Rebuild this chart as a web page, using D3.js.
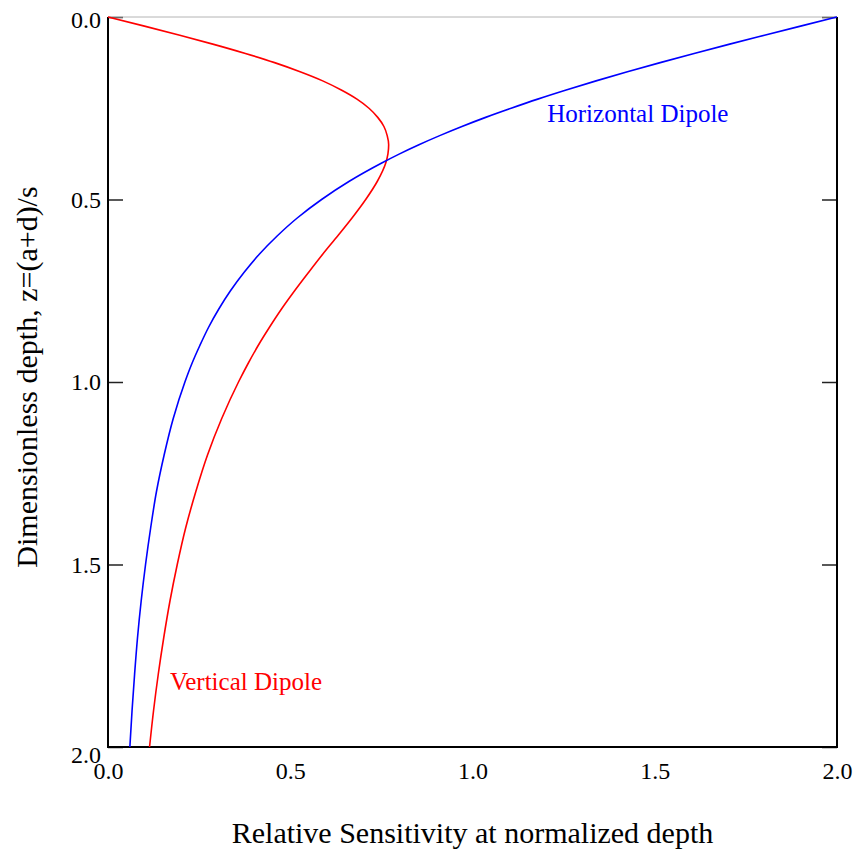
<!DOCTYPE html>
<html>
<head>
<meta charset="utf-8">
<script src="https://cdn.jsdelivr.net/npm/d3@7"></script>
<style>
	body { margin: 0; background: #fff; }
	svg text { font-family: "Liberation Serif", "Times New Roman", serif; }
</style>
</head>
<body>
<div id="chart"></div>
<script>
// DATA ------------------------------------------------------------
// normalized depth z=(a+d)/s
var depths = [0, 0.025, 0.05, 0.075, 0.1, 0.125, 0.15, 0.175, 0.2, 0.225, 0.25, 0.275, 0.3, 0.325, 0.35, 0.375, 0.4,
	0.45, 0.5, 0.55, 0.6, 0.65, 0.7, 0.75, 0.8, 0.85, 0.9, 0.95, 1.0,
	1.1, 1.2, 1.3, 1.4, 1.5, 1.6, 1.7, 1.8, 1.9, 2.0];

// relative sensitivity, vertical dipole (red)
var verticalDipole = [0, 0.100, 0.197, 0.290, 0.377, 0.457, 0.527, 0.589, 0.640, 0.683, 0.716, 0.740, 0.757, 0.766, 0.770, 0.768, 0.762,
	0.739, 0.707, 0.670, 0.630, 0.589, 0.550, 0.512, 0.476, 0.443, 0.412, 0.384, 0.358,
	0.312, 0.273, 0.241, 0.213, 0.190, 0.170, 0.153, 0.138, 0.125, 0.114];

// relative sensitivity, horizontal dipole (blue)
var horizontalDipole = [2.0, 1.900, 1.801, 1.703, 1.608, 1.515, 1.425, 1.339, 1.257, 1.179, 1.106, 1.036, 0.971, 0.910, 0.853, 0.800, 0.751,
	0.662, 0.586, 0.520, 0.464, 0.415, 0.373, 0.336, 0.304, 0.276, 0.252, 0.230, 0.211,
	0.179, 0.154, 0.133, 0.117, 0.103, 0.091, 0.081, 0.073, 0.066, 0.060];

var xTicks = [0, 0.5, 1.0, 1.5, 2.0];
var yTicks = [0, 0.5, 1.0, 1.5, 2.0];

// SVG SIZE ------------------------------------------------------------
var svgWidth = 862,
	svgHeight = 850;
var margin = {top: 17, right: 25, bottom: 103, left: 108},
	width = svgWidth - margin.left - margin.right,
	height = svgHeight - margin.top - margin.bottom;

var colors = {
	'vertical': '#ff0000',
	'horizontal': '#0000ff',
	'frame': '#000000',
	'top': '#b4b4b4'
};

var svg = d3.select("#chart")
	.append("svg")
	.attr("width", svgWidth)
	.attr("height", svgHeight);

var g = svg.append("g")
	.attr("transform", "translate(" + margin.left + "," + margin.top + ")");

var x = d3.scaleLinear().domain([0, 2]).range([0, width]);
var y = d3.scaleLinear().domain([0, 2]).range([0, height]);

// AXES ------------------------------------------------------------
var fmt = d3.format(".1f");

var leftAxis = g.append("g")
	.call(d3.axisLeft(y).tickValues(yTicks).tickSize(-15).tickPadding(7).tickFormat(fmt));
var rightAxis = g.append("g")
	.attr("transform", "translate(" + width + ",0)")
	.call(d3.axisRight(y).tickValues(yTicks).tickSize(-15).tickFormat(""));
var bottomAxis = g.append("g")
	.attr("transform", "translate(0," + height + ")")
	.call(d3.axisBottom(x).tickValues(xTicks).tickSize(0).tickPadding(15).tickFormat(fmt));

[leftAxis, rightAxis, bottomAxis].forEach(function(a) {
	a.select(".domain").remove();
	a.selectAll("line").attr("stroke", "#222").attr("stroke-width", 1.5);
	a.selectAll("text")
		.attr("fill", "#000")
		.style("font-size", "24px");
});

// nudge the end labels of the depth axis like the original
leftAxis.selectAll("text")
	.attr("dy", function(d) { return d === 0 ? "0.45em" : (d === 2 ? "0.65em" : "0.33em"); });

// FRAME ------------------------------------------------------------
g.append("line")
	.attr("x1", 0).attr("x2", width).attr("y1", 0).attr("y2", 0)
	.attr("stroke", colors.top).attr("stroke-width", 1);
g.append("path")
	.attr("d", "M0,0V" + height + "H" + width + "V0")
	.attr("fill", "none")
	.attr("stroke", colors.frame)
	.attr("stroke-width", 2);

// CURVES ------------------------------------------------------------
function curve(values) {
	return d3.line()
		.x(function(d) { return x(d); })
		.y(function(d, i) { return y(depths[i]); })
		.curve(d3.curveMonotoneY)(values);
}

g.append("path")
	.attr("d", curve(verticalDipole))
	.attr("fill", "none")
	.attr("stroke", colors.vertical)
	.attr("stroke-width", 1.6);

g.append("path")
	.attr("d", curve(horizontalDipole))
	.attr("fill", "none")
	.attr("stroke", colors.horizontal)
	.attr("stroke-width", 1.6);

// LABELS ------------------------------------------------------------
g.append("text")
	.attr("x", x(1.205))
	.attr("y", y(0.288))
	.attr("fill", colors.horizontal)
	.style("font-size", "25px")
	.text("Horizontal Dipole");

g.append("text")
	.attr("x", x(0.17))
	.attr("y", y(1.845))
	.attr("fill", colors.vertical)
	.style("font-size", "25px")
	.text("Vertical Dipole");

// axis titles
svg.append("text")
	.attr("x", margin.left + width / 2)
	.attr("y", 843)
	.attr("text-anchor", "middle")
	.style("font-size", "30px")
	.text("Relative Sensitivity at normalized depth");

svg.append("text")
	.attr("transform", "translate(37," + 377 + ") rotate(-90)")
	.attr("text-anchor", "middle")
	.style("font-size", "30px")
	.text("Dimensionless depth, z=(a+d)/s");
</script>
</body>
</html>
